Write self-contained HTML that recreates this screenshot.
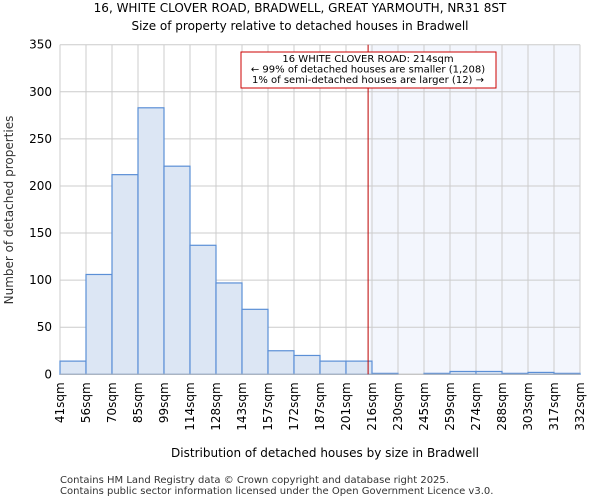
<!DOCTYPE html>
<html><head><meta charset="utf-8"><style>
body{margin:0;background:#fff;font-family:"DejaVu Sans","Liberation Sans",sans-serif;}
svg text{font-family:"DejaVu Sans","Liberation Sans",sans-serif;}
</style></head><body>
<svg id="chart" width="600" height="500" xmlns="http://www.w3.org/2000/svg">
<text x="300" y="12" font-size="12" text-anchor="middle">16, WHITE CLOVER ROAD, BRADWELL, GREAT YARMOUTH, NR31 8ST</text>
<text x="300" y="30" font-size="12" text-anchor="middle">Size of property relative to detached houses in Bradwell</text>
<g id="grid"></g>
<g id="bars"></g>
<g id="axes"></g>
<text x="325" y="457" font-size="12" text-anchor="middle">Distribution of detached houses by size in Bradwell</text>
<text transform="translate(13,210) rotate(-90)" font-size="12" text-anchor="middle" fill="#333">Number of detached properties</text>
<text x="60" y="483" font-size="10" fill="#333">Contains HM Land Registry data © Crown copyright and database right 2025.</text>
<text x="60" y="494" font-size="10" fill="#333">Contains public sector information licensed under the Open Government Licence v3.0.</text>
</svg>
<script>
const binEdges=[41,56,70,85,99,114,128,143,157,172,187,201,216,230,245,259,274,288,303,317,332];
const counts=[14,106,212,283,221,137,97,69,25,20,14,14,1,0,1,3,3,1,2,1];
const yTicks=[0,50,100,150,200,250,300,350];
const propertyIndex=11.85;
const NS="http://www.w3.org/2000/svg";
const L=60,R=580,T=44.7,B=374.3,yMax=350;
const nb=counts.length;
const xi=i=>L+(R-L)*i/nb;
const y=v=>B-(B-T)*v/yMax;
function mk(tag,attrs,parent){const e=document.createElementNS(NS,tag);for(const k in attrs)e.setAttribute(k,attrs[k]);parent.appendChild(e);return e;}
const grid=document.getElementById('grid'),bars=document.getElementById('bars'),axes=document.getElementById('axes');
const px=xi(propertyIndex);
const shade=mk('rect',{x:px+2,y:T,width:R-px-2,height:B-T,fill:'#f3f6fd'},grid);


yTicks.forEach(v=>{
 const l=mk('line',{x1:L,x2:R,y1:y(v),y2:y(v),stroke:'#ccc','stroke-width':1},grid);
 
 
 const t=mk('text',{x:L-8,y:y(v)+4,'font-size':12,'text-anchor':'end'},axes);
 
 
 t.textContent=v;
});
binEdges.forEach((e,i)=>{
 const l=mk('line',{x1:xi(i),x2:xi(i),y1:T,y2:B,stroke:'#ccc','stroke-width':1},grid);
 
 
 const t=mk('text',{'font-size':12,'text-anchor':'end',transform:`translate(${xi(i)+4},${B+8}) rotate(-90)`},axes);
 
 
 t.textContent=e+'sqm';
});
counts.forEach((c,i)=>{
 const r=mk('rect',{x:xi(i),y:y(c),width:xi(i+1)-xi(i),height:B-y(c),fill:'#dce6f4',stroke:'#5b8fd6','stroke-width':1.2},bars);
 
 
});
const ax=mk('line',{x1:L,x2:R,y1:B,y2:B,stroke:'#bbb','stroke-width':1},axes);


const pl=mk('line',{x1:px,x2:px,y1:T,y2:B,stroke:'#b00','stroke-width':1},axes);


const g=mk('g',{},axes);


mk('rect',{x:241,y:52,width:255,height:36,fill:'#fff',stroke:'#c00','stroke-width':1},g);
const lines=['16 WHITE CLOVER ROAD: 214sqm','← 99% of detached houses are smaller (1,208)','1% of semi-detached houses are larger (12) →'];
lines.forEach((s,i)=>{
 const t=mk('text',{x:368,y:62+i*10.5,'font-size':10,'text-anchor':'middle'},g);
 
 
 t.textContent=s;
});
</script>
</body></html>
